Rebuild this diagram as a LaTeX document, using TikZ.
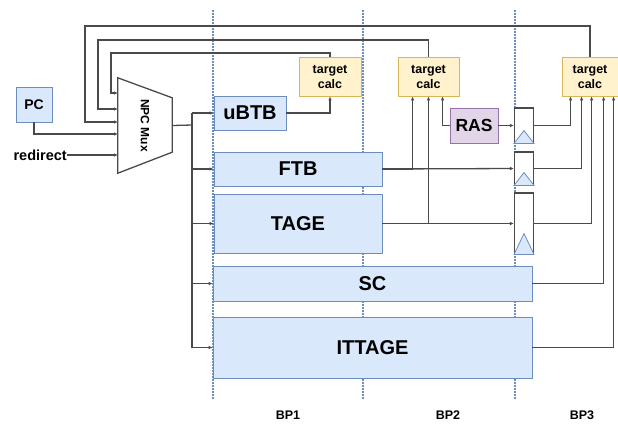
\documentclass[tikz,border=0pt]{standalone}
\usepackage{fontspec}
\setmainfont{Liberation Sans}
\usetikzlibrary{arrows.meta,positioning,calc}
\definecolor{bpfill}{HTML}{DAE8FC}
\definecolor{bpdraw}{HTML}{6C8EBF}
\definecolor{tcfill}{HTML}{FFF2CC}
\definecolor{tcdraw}{HTML}{D6B656}
\definecolor{rasfill}{HTML}{E1D5E7}
\definecolor{rasdraw}{HTML}{9673A6}
\definecolor{wire}{HTML}{4A4A4A}
\begin{document}
\begin{tikzpicture}[x=1pt,y=-1pt,>={Latex[length=4pt,width=3.5pt]},
  w/.style={draw=wire,line width=1.3pt},
  bp/.style={draw=bpdraw,fill=bpfill,line width=0.8pt,inner sep=0pt,font=\bfseries\fontsize{20}{20}\selectfont},
  tc/.style={draw=tcdraw,fill=tcfill,line width=0.8pt,inner sep=0pt,minimum height=39,align=center,font=\bfseries\fontsize{12.5}{15}\selectfont},
  reg/.style={draw=wire,fill=white,line width=1.1pt,inner sep=0pt,minimum width=19},
  clk/.style={draw=bpdraw,fill=bpfill,line width=0.8pt},
  stage/.style={draw=bpdraw,line width=1.2pt,dash pattern=on 1.5pt off 1.5pt},
  lbl/.style={font=\bfseries\fontsize{12.5}{12.5}\selectfont,inner sep=0pt}]
\useasboundingbox (0,0) rectangle (618,424);
\draw[stage] (213,10) -- (213,400); \draw[stage] (363,10) -- (363,400); \draw[stage] (515,10) -- (515,400);
\node[bp,minimum width=36,minimum height=35,font=\bfseries\fontsize{14}{14}\selectfont] (pc) at (34,104.5) {PC};
\node[lbl,anchor=east,font=\bfseries\fontsize{14.5}{14.5}\selectfont] (redir) at (67,155) {redirect};
\node[minimum width=54,minimum height=95,inner sep=0pt] (mux) at (145,125.5) {};
\draw[w,fill=white] (mux.north west) -- ($(mux.north east)+(0,20)$) -- ($(mux.south east)+(0,-21)$) -- (mux.south west) -- cycle;
\node[font=\bfseries\fontsize{12}{12}\selectfont] (muxlbl) at (mux) {\rotatebox{-90}{NPC Mux}};
\coordinate (mi1) at (118,93); \coordinate (mi2) at (118,109); \coordinate (mi3) at (118,122);
\coordinate (mi4) at (118,134); \coordinate (mi5) at (118,155); \coordinate (bus) at (192,125);
\node[bp,minimum width=72,minimum height=34] (ubtb) at (250,113) {uBTB};
\node[bp,minimum width=168,minimum height=34] (ftb) at (298,169) {FTB};
\node[bp,minimum width=168,minimum height=59] (tage) at (298,223.5) {TAGE};
\node[bp,minimum width=319,minimum height=35] (sc) at (372.5,283.5) {SC};
\node[bp,minimum width=319,minimum height=61] (ittage) at (372.5,347.5) {ITTAGE};
\node[tc,minimum width=62] (tc1) at (330,76.5) {target\\calc};
\node[tc,minimum width=61] (tc2) at (428.5,76.5) {target\\calc};
\node[tc,minimum width=56] (tc3) at (590,76.5) {target\\calc};
\node[bp,draw=rasdraw,fill=rasfill,minimum width=48,minimum height=35,font=\bfseries\fontsize{17.5}{17.5}\selectfont] (ras) at (474,125.5) {RAS};
\node[reg,minimum height=35] (reg1) at (524,125.5) {};
\node[reg,minimum height=33] (reg2) at (524,168.5) {};
\node[reg,minimum height=61] (reg3) at (524,223.5) {};
\draw[clk] (reg1.south west) -- (reg1.south east) -- ($(reg1.south)+(0,-13)$) -- cycle;
\draw[clk] (reg2.south west) -- (reg2.south east) -- ($(reg2.south)+(0,-13)$) -- cycle;
\draw[clk] (reg3.south west) -- (reg3.south east) -- ($(reg3.south)+(0,-21)$) -- cycle;
\node[lbl] (bp1) at (288,415) {BP1};
\node[lbl] (bp2) at (448,415) {BP2};
\node[lbl] (bp3) at (582,415) {BP3};
\draw[w,->] (pc.south) |- (mi4); \draw[w,->] (redir.east) -- (mi5);
\draw[w,->] (tc1.north) |- (111,53) |- (mi1);
\draw[w,->] (tc2.north) |- (98,40) |- (mi2);
\draw[w,->] (tc3.north) |- (85,26) |- (mi3);
\draw[w] (mux.east) -- (bus); \draw[w] (bus |- ubtb) -- (bus |- ittage);
\draw[w,->] (bus |- ubtb) -- (ubtb.west); \draw[w,->] (bus |- ftb) -- (ftb.west);
\draw[w,->] (bus |- tage) -- (tage.west); \draw[w,->] (bus |- sc) -- (sc.west);
\draw[w,->] (bus |- ittage) -- (ittage.west);
\draw[w,->] (ubtb.east) -| (tc1.south);
\draw[w,->] (ftb.east) -- (reg2.west); \draw[w,->] (ftb.east) -| ($(tc2.south west)+(15,0)$);
\draw[w,->] (tage.east) -- (reg3.west); \draw[w,->] (tage.east) -| (tc2.south);
\draw[w,->] (ras.west) -| ($(tc2.south west)+(45,0)$); \draw[w,->] (ras.east) -- (reg1.west);
\draw[w,->] (reg1.east) -| ($(tc3.south west)+(9,0)$);
\draw[w,->] (reg2.east) -| ($(tc3.south west)+(20,0)$);
\draw[w,->] (reg3.east) -| ($(tc3.south west)+(30,0)$);
\draw[w,->] (sc.east) -| ($(tc3.south west)+(42,0)$);
\draw[w,->] (ittage.east) -| ($(tc3.south west)+(52,0)$);
\end{tikzpicture}
\end{document}
